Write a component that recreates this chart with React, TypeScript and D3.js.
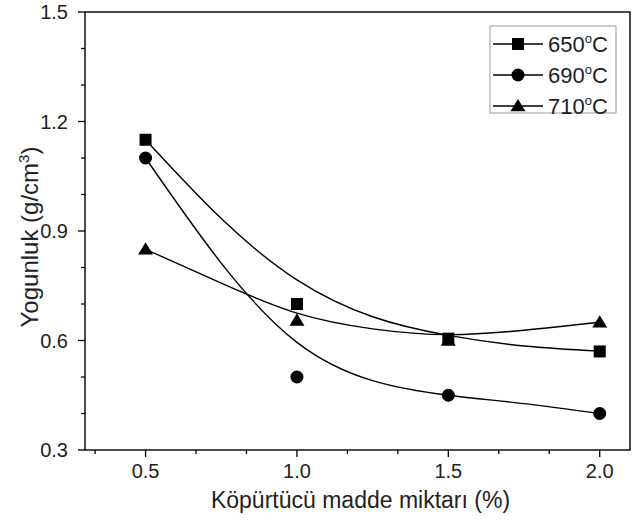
import React from "react";
import * as d3 from "d3";

const width = 635;
const height = 522;
const margin = { top: 12, right: 5, bottom: 72, left: 85 };
const font = "'Liberation Sans', Arial, Helvetica, sans-serif";

// measured points
const xValues = [0.5, 1.0, 1.5, 2.0];
const density650 = [1.15, 0.7, 0.605, 0.57];
const density690 = [1.1, 0.5, 0.45, 0.4];
const density710 = [0.85, 0.655, 0.6, 0.65];

// fitted curves
const fitX = [0.5, 0.75, 1.0, 1.25, 1.5, 1.75, 2.0];
const fit650 = [1.15, 0.934, 0.766, 0.665, 0.614, 0.585, 0.571];
const fit690 = [1.1, 0.812, 0.595, 0.49, 0.45, 0.427, 0.4];
const fit710 = [0.85, 0.757, 0.675, 0.632, 0.616, 0.628, 0.65];

const seriesLabels = ["650", "690", "710"];
const seriesShapes = ["square", "circle", "triangle"];

const xMajorTicks = [0.5, 1.0, 1.5, 2.0];
const xMinorTicks = [1 / 3, 2 / 3, 5 / 6, 7 / 6, 4 / 3, 5 / 3, 11 / 6];
const yMajorTicks = [0.3, 0.6, 0.9, 1.2, 1.5];
const yMinorTicks = [0.4, 0.5, 0.7, 0.8, 1.0, 1.1, 1.3, 1.4];

const xTitle = "Köpürtücü madde miktarı (%)";

function Marker({ shape, x, y }: { shape: string; x: number; y: number }) {
  if (shape === "square")
    return <rect x={x - 6} y={y - 6} width={12} height={12} fill="#000" />;
  if (shape === "circle") return <circle cx={x} cy={y} r={6.5} fill="#000" />;
  const s = 7.5;
  return (
    <path
      d={`M${x},${y - s * 0.95} L${x + s},${y + s * 0.7} L${x - s},${y + s * 0.7} Z`}
      fill="#000"
    />
  );
}

export default function App() {
  const x = d3
    .scaleLinear()
    .domain([0.3, 2.1])
    .range([margin.left, width - margin.right]);
  const y = d3
    .scaleLinear()
    .domain([0.3, 1.5])
    .range([height - margin.bottom, margin.top]);

  const series = [
    { label: seriesLabels[0], shape: seriesShapes[0], values: density650, fit: fit650 },
    { label: seriesLabels[1], shape: seriesShapes[1], values: density690, fit: fit690 },
    { label: seriesLabels[2], shape: seriesShapes[2], values: density710, fit: fit710 }
  ];

  const line = d3
    .line<[number, number]>()
    .x((d) => x(d[0]))
    .y((d) => y(d[1]))
    .curve(d3.curveNatural);

  const x0 = margin.left;
  const x1 = width - margin.right;
  const y0 = height - margin.bottom;
  const y1 = margin.top;

  const legend = { left: 490, top: 26, w: 126, h: 87, rowGap: 31 };

  return (
    <svg
      width={width}
      height={height}
      style={{ position: "absolute", left: 0, top: 0, background: "#fff" }}
      fontFamily={font}
    >
      {/* fit lines */}
      <g fill="none" stroke="#000" strokeWidth={1.4}>
        {series.map((s) => (
          <path key={s.label} d={line(fitX.map((v, i) => [v, s.fit[i]])) || ""} />
        ))}
      </g>

      {/* markers */}
      {series.map((s) => (
        <g key={s.label}>
          {xValues.map((v, i) => (
            <Marker key={i} shape={s.shape} x={x(v)} y={y(s.values[i])} />
          ))}
        </g>
      ))}

      {/* frame */}
      <rect
        x={x0}
        y={y1}
        width={x1 - x0}
        height={y0 - y1}
        fill="none"
        stroke="#000"
        strokeWidth={1.4}
      />

      {/* ticks */}
      <g stroke="#000" strokeWidth={1.3}>
        {xMajorTicks.map((t) => (
          <line key={t} x1={x(t)} x2={x(t)} y1={y0} y2={y0 + 7} />
        ))}
        {xMinorTicks.map((t) => (
          <line key={t} x1={x(t)} x2={x(t)} y1={y0} y2={y0 + 4} />
        ))}
        {yMajorTicks.map((t) => (
          <line key={t} x1={x0 - 7} x2={x0} y1={y(t)} y2={y(t)} />
        ))}
        {yMinorTicks.map((t) => (
          <line key={t} x1={x0 - 4} x2={x0} y1={y(t)} y2={y(t)} />
        ))}
      </g>
      <g fontSize={20} fill="#222">
        {xMajorTicks.map((t) => (
          <text key={t} x={x(t)} y={y0 + 28} textAnchor="middle">
            {d3.format(".1f")(t)}
          </text>
        ))}
        {yMajorTicks.map((t) => (
          <text key={t} x={x0 - 17} y={y(t) + 7} textAnchor="end">
            {d3.format(".1f")(t)}
          </text>
        ))}
      </g>

      {/* axis titles */}
      <text x={(x0 + x1) / 2 + 3} y={y0 + 58} textAnchor="middle" fontSize={23} fill="#222">
        {xTitle}
      </text>
      <text
        transform={`translate(38 ${(y0 + y1) / 2 + 6}) rotate(-90)`}
        textAnchor="middle"
        fontSize={24}
        fill="#222"
      >
        Yogunluk (g/cm<tspan dy={-9} fontSize={15}>3</tspan>
        <tspan dy={9}>)</tspan>
      </text>

      {/* legend */}
      <rect
        x={legend.left}
        y={legend.top}
        width={legend.w}
        height={legend.h}
        fill="#fff"
        stroke="#999"
        strokeWidth={1}
      />
      {series.map((s, i) => {
        const cy = legend.top + 18 + i * legend.rowGap;
        return (
          <g key={s.label}>
            <line x1={legend.left + 3} x2={legend.left + 53} y1={cy} y2={cy} stroke="#000" strokeWidth={1.4} />
            <Marker shape={s.shape} x={legend.left + 28} y={cy} />
            <text x={legend.left + 58} y={cy + 8} fontSize={22} fill="#222">
              {s.label}
              <tspan dy={-9} fontSize={13}>o</tspan>
              <tspan dy={9}>C</tspan>
            </text>
          </g>
        );
      })}
    </svg>
  );
}
